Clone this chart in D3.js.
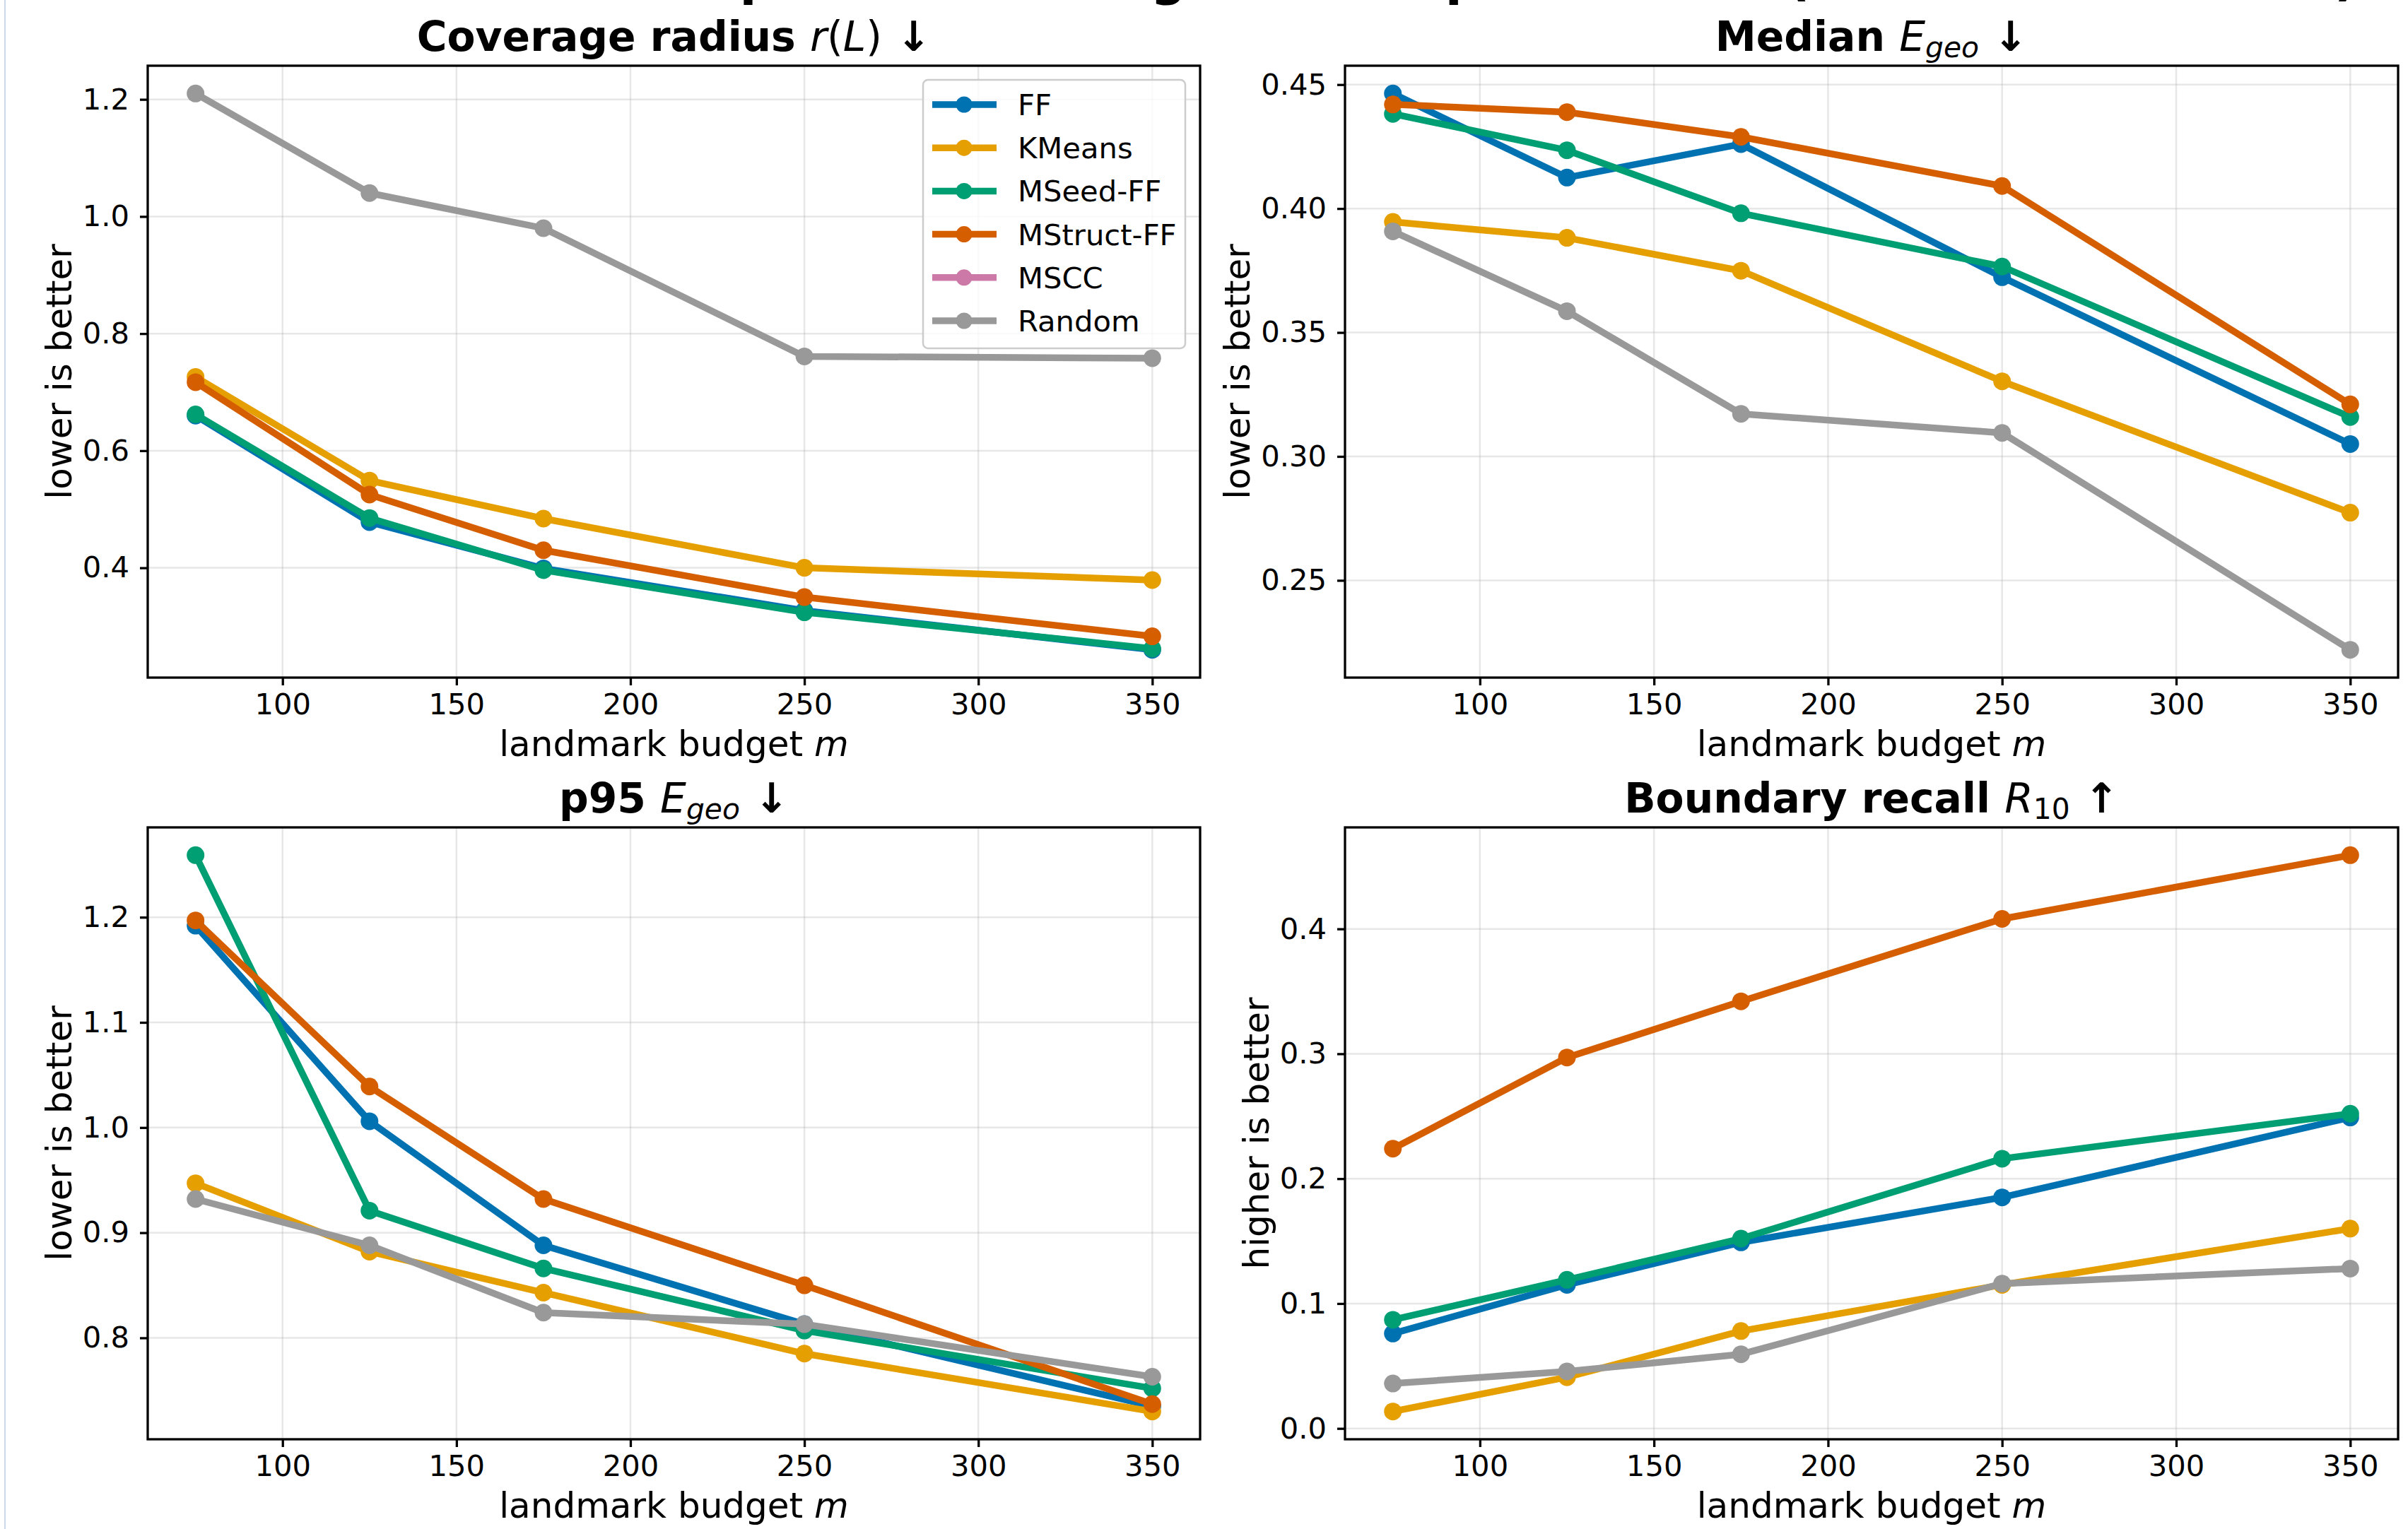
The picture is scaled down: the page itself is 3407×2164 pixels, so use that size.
<!DOCTYPE html>
<html>
<head>
<meta charset="utf-8">
<script src="https://cdn.jsdelivr.net/npm/d3@7"></script>
<style>
  html, body { margin: 0; padding: 0; background: #fff; }
  svg { display: block; font-family: "DejaVu Sans", sans-serif; }
</style>
</head>
<body>
<script>
// landmark budgets on the x axis
var budgets = [75, 125, 175, 250, 350];
var xTicks = [100, 150, 200, 250, 300, 350];

var methods = ['FF', 'KMeans', 'MSeed-FF', 'MStruct-FF', 'MSCC', 'Random'];
var methodColors = ['#0072b2', '#e69f00', '#009e73', '#d55e00', '#cc79a7', '#999999'];

// one row per method, same order as `methods` (MSCC has no values)
var coverageRadius = [
  [0.660, 0.478, 0.399, 0.327, 0.260],
  [0.726, 0.549, 0.484, 0.400, 0.379],
  [0.662, 0.485, 0.396, 0.324, 0.262],
  [0.717, 0.525, 0.430, 0.350, 0.283],
  [null, null, null, null, null],
  [1.210, 1.040, 0.980, 0.761, 0.758]
];
var coverageTicks = [0.4, 0.6, 0.8, 1.0, 1.2];

var medianGeo = [
  [0.4464, 0.4125, 0.4260, 0.3723, 0.3050],
  [0.3946, 0.3882, 0.3749, 0.3303, 0.2773],
  [0.4382, 0.4235, 0.3981, 0.3766, 0.3159],
  [0.4420, 0.4389, 0.4289, 0.4091, 0.3210],
  [null, null, null, null, null],
  [0.3908, 0.3586, 0.3172, 0.3095, 0.2220]
];
var medianTicks = [0.25, 0.30, 0.35, 0.40, 0.45];

var p95Geo = [
  [1.192, 1.006, 0.888, 0.813, 0.735],
  [0.947, 0.882, 0.843, 0.785, 0.730],
  [1.259, 0.921, 0.866, 0.807, 0.752],
  [1.197, 1.039, 0.932, 0.850, 0.737],
  [null, null, null, null, null],
  [0.932, 0.888, 0.824, 0.813, 0.763]
];
var p95Ticks = [0.8, 0.9, 1.0, 1.1, 1.2];

var boundaryRecall = [
  [0.076, 0.115, 0.149, 0.185, 0.249],
  [0.0136, 0.041, 0.078, 0.115, 0.160],
  [0.087, 0.119, 0.152, 0.216, 0.252],
  [0.224, 0.297, 0.342, 0.408, 0.459],
  [null, null, null, null, null],
  [0.036, 0.0457, 0.0594, 0.116, 0.128]
];
var recallTicks = [0.0, 0.1, 0.2, 0.3, 0.4];

var W = 3407, H = 2164;
var titleSize = 58.3, tickSize = 41.7, labelSize = 50;

var svg = d3.select('body').append('svg')
  .attr('width', W)
  .attr('height', H);

// faint left edge line in the screenshot
svg.append('line')
  .attr('x1', 7).attr('x2', 7).attr('y1', 0).attr('y2', H)
  .attr('stroke', '#cbd8ea').attr('stroke-width', 2);

// suptitle, mostly cut off at the top edge
svg.append('text')
  .attr('x', 1710).attr('y', -7)
  .attr('text-anchor', 'middle')
  .attr('font-size', 70).attr('font-weight', 'bold')
  .text('Landmark selection comparison vs budget m on split test set (mean over 5 seeds)');

var panels = [
  { box: [209, 93, 1698, 959], values: coverageRadius, ticks: coverageTicks, fmt: '.1f',
    ylabel: 'lower is better', legend: true,
    title: [['Coverage radius ', 'b'], ['r', 'i'], ['(', 'r'], ['L', 'i'], [')', 'r'], [' \u2193', 'b']] },
  { box: [1903, 93, 3393, 959], values: medianGeo, ticks: medianTicks, fmt: '.2f',
    ylabel: 'lower is better',
    title: [['Median ', 'b'], ['E', 'i'], ['geo', 'si'], [' \u2193', 'b']] },
  { box: [209, 1171, 1698, 2037], values: p95Geo, ticks: p95Ticks, fmt: '.1f',
    ylabel: 'lower is better',
    title: [['p95 ', 'b'], ['E', 'i'], ['geo', 'si'], [' \u2193', 'b']] },
  { box: [1903, 1171, 3393, 2037], values: boundaryRecall, ticks: recallTicks, fmt: '.1f',
    ylabel: 'higher is better',
    title: [['Boundary recall ', 'b'], ['R', 'i'], ['10', 'sr'], [' \u2191', 'b']] }
];

// matplotlib style 5% margins
function padded(ext) {
  var d = (ext[1] - ext[0]) * 0.05;
  return [ext[0] - d, ext[1] + d];
}

function addRich(textSel, parts, size) {
  var shifted = false;
  var sub = size * 0.16;
  parts.forEach(function(p) {
    var t = textSel.append('tspan').text(p[0]);
    var style = p[1];
    if (style == 'b') t.attr('font-weight', 'bold');
    if (style == 'i' || style == 'si') t.attr('font-style', 'italic').attr('font-weight', 'normal');
    if (style == 'r' || style == 'sr') t.attr('font-weight', 'normal');
    if (style == 'si' || style == 'sr') {
      t.attr('font-size', size * 0.7);
      if (!shifted) { t.attr('dy', sub); shifted = true; }
    } else if (shifted) {
      t.attr('dy', -sub); shifted = false;
    }
  });
}

panels.forEach(function(p) {
  var x0 = p.box[0], y0 = p.box[1], x1 = p.box[2], y1 = p.box[3];
  var all = [];
  p.values.forEach(function(row) { row.forEach(function(v) { if (v != null) all.push(v); }); });

  var x = d3.scaleLinear().domain(padded(d3.extent(budgets))).range([x0, x1]);
  var y = d3.scaleLinear().domain(padded(d3.extent(all))).range([y1, y0]);

  var g = svg.append('g');

  // grid
  g.selectAll('.vgrid').data(xTicks).enter().append('line')
    .attr('x1', function(d) { return x(d); }).attr('x2', function(d) { return x(d); })
    .attr('y1', y0).attr('y2', y1)
    .attr('stroke', '#b0b0b0').attr('stroke-opacity', 0.3).attr('stroke-width', 2.5);
  g.selectAll('.hgrid').data(p.ticks).enter().append('line')
    .attr('x1', x0).attr('x2', x1)
    .attr('y1', function(d) { return y(d); }).attr('y2', function(d) { return y(d); })
    .attr('stroke', '#b0b0b0').attr('stroke-opacity', 0.3).attr('stroke-width', 2.5);

  // series
  var line = d3.line()
    .defined(function(d) { return d[1] != null; })
    .x(function(d) { return x(d[0]); })
    .y(function(d) { return y(d[1]); });

  p.values.forEach(function(row, i) {
    var pts = budgets.map(function(b, j) { return [b, row[j]]; });
    g.append('path')
      .attr('d', line(pts))
      .attr('fill', 'none')
      .attr('stroke', methodColors[i])
      .attr('stroke-width', 9.5)
      .attr('stroke-linejoin', 'round');
    g.selectAll(null).data(pts.filter(function(d) { return d[1] != null; })).enter().append('circle')
      .attr('cx', function(d) { return x(d[0]); })
      .attr('cy', function(d) { return y(d[1]); })
      .attr('r', 12.5)
      .attr('fill', methodColors[i]);
  });

  // spines
  g.append('rect')
    .attr('x', x0).attr('y', y0).attr('width', x1 - x0).attr('height', y1 - y0)
    .attr('fill', 'none').attr('stroke', '#000').attr('stroke-width', 3.3);

  // axes
  var xa = g.append('g').attr('transform', 'translate(0,' + y1 + ')')
    .call(d3.axisBottom(x).tickValues(xTicks).tickSize(11).tickPadding(11.5).tickFormat(d3.format('d')));
  var ya = g.append('g').attr('transform', 'translate(' + x0 + ',0)')
    .call(d3.axisLeft(y).tickValues(p.ticks).tickSize(11).tickPadding(15).tickFormat(d3.format(p.fmt)));
  [xa, ya].forEach(function(a) {
    a.select('.domain').remove();
    a.selectAll('line').attr('stroke', '#000').attr('stroke-width', 3.3);
    a.selectAll('text').attr('font-size', tickSize).attr('font-family', '"DejaVu Sans", sans-serif').attr('fill', '#000');
  });

  // x label
  var xl = g.append('text')
    .attr('x', (x0 + x1) / 2).attr('y', y1 + 111)
    .attr('text-anchor', 'middle').attr('font-size', labelSize);
  xl.append('tspan').text('landmark budget ');
  xl.append('tspan').attr('font-style', 'italic').text('m');

  // y label, placed left of the tick labels
  var bb = ya.node().getBBox();
  var lx = x0 + bb.x - 16;
  g.append('text')
    .attr('transform', 'translate(' + lx + ',' + ((y0 + y1) / 2) + ') rotate(-90)')
    .attr('text-anchor', 'middle').attr('font-size', labelSize)
    .text(p.ylabel);

  // title
  var tt = g.append('text')
    .attr('x', (x0 + x1) / 2).attr('y', y0 - 21)
    .attr('text-anchor', 'middle').attr('font-size', titleSize);
  addRich(tt, p.title, titleSize);

  if (p.legend) {
    var lg = g.append('g');
    lg.append('rect')
      .attr('x', 1306).attr('y', 113).attr('width', 371).attr('height', 380)
      .attr('rx', 7)
      .attr('fill', '#fff').attr('fill-opacity', 0.8)
      .attr('stroke', '#cccccc').attr('stroke-width', 2.5);
    var rows = lg.selectAll('.row').data(methods).enter().append('g')
      .attr('transform', function(d, i) { return 'translate(0,' + (148 + i * 61.2) + ')'; });
    rows.append('line')
      .attr('x1', 1319).attr('x2', 1410).attr('y1', 0).attr('y2', 0)
      .attr('stroke', function(d, i) { return methodColors[i]; })
      .attr('stroke-width', 9.5);
    rows.append('circle')
      .attr('cx', 1364).attr('cy', 0).attr('r', 11.5)
      .attr('fill', function(d, i) { return methodColors[i]; });
    rows.append('text')
      .attr('x', 1440).attr('y', 0).attr('dy', '0.36em')
      .attr('font-size', tickSize)
      .text(function(d) { return d; });
  }
});
</script>
</body>
</html>
